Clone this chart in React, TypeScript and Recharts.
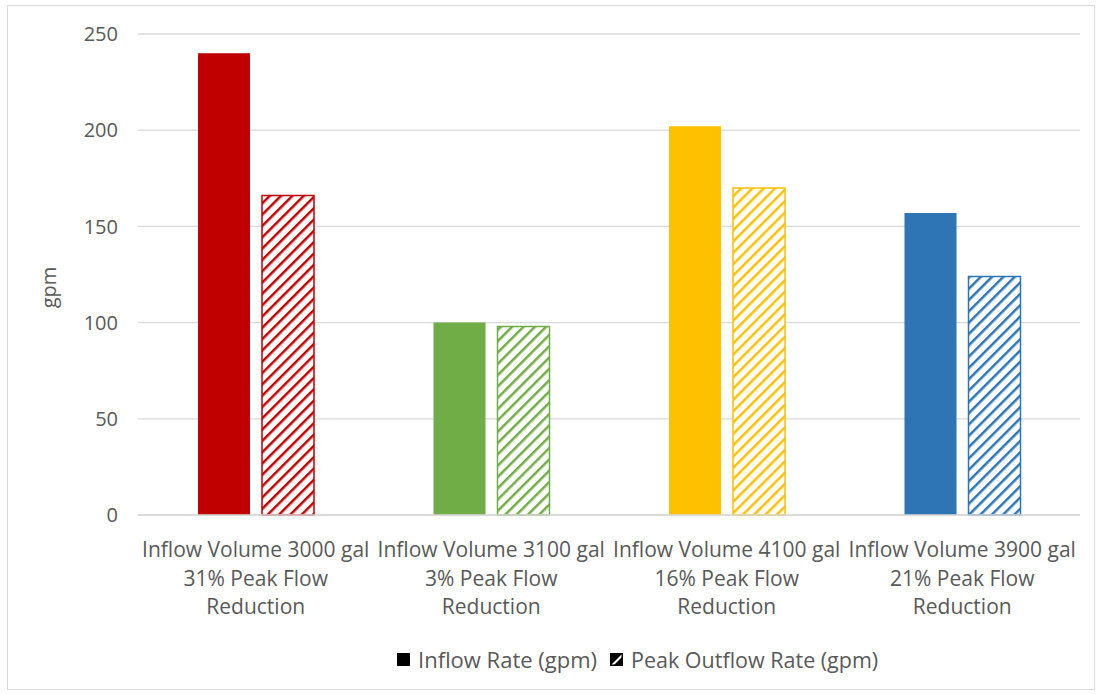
import React from "react";
import { BarChart, Bar, XAxis, YAxis, CartesianGrid, Legend, Cell } from "recharts";

const volumes = ["3000", "3100", "4100", "3900"];
const reductions = ["31%", "3%", "16%", "21%"];
const inflowRate = [240, 100, 202, 157];
const peakOutflow = [166, 98, 170, 124];
const barColors = ["#C00000", "#70AD47", "#FFC000", "#2E75B6"];
const yTicks = [0, 50, 100, 150, 200, 250];

const data = volumes.map((v, i) => ({
  name: `Inflow Volume ${v} gal`,
  reduction: `${reductions[i]} Peak Flow`,
  inflow: inflowRate[i],
  outflow: peakOutflow[i],
}));

const FONT = "'Open Sans', sans-serif";
const TEXT = "#595959";

function CategoryTick({ x, y, payload, index }: any) {
  const row = data[index] || data.find((d) => d.name === payload.value);
  return (
    <text x={x} y={y} textAnchor="middle" fill={TEXT} fontSize={21} fontFamily={FONT}>
      <tspan x={x} dy={34}>{payload.value}</tspan>
      <tspan x={x} dy={28.5}>{row ? row.reduction : ""}</tspan>
      <tspan x={x} dy={28.5}>Reduction</tspan>
    </text>
  );
}

function AxisTitle({ viewBox }: any) {
  const cx = 48;
  const cy = viewBox.y + viewBox.height / 2 + 13;
  return (
    <text
      x={cx}
      y={cy}
      transform={`rotate(-90, ${cx}, ${cy})`}
      textAnchor="middle"
      dominantBaseline="central"
      fill={TEXT}
      fontSize={20}
      fontFamily={FONT}
    >
      gpm
    </text>
  );
}

// legend laid out from the left to sit where the original one does
function LegendBox() {
  return (
    <div style={{ display: "flex", alignItems: "center", fontFamily: FONT, fontSize: 22, color: TEXT, height: 30, paddingLeft: 397 }}>
      <svg width={13} height={13} style={{ marginRight: 8 }}>
        <rect x={0} y={0} width={13} height={13} fill="#000" />
      </svg>
      <span style={{ width: 192, display: "inline-block" }}>Inflow Rate (gpm)</span>
      <svg width={13} height={13} style={{ marginRight: 8 }}>
        <rect x={0.75} y={0.75} width={11.5} height={11.5} fill="#fff" stroke="#000" strokeWidth={1.5} />
        <polygon points="0,0 13,0 0,13" fill="#000" />
        <polygon points="3,13 13,3 13,13" fill="#000" />
      </svg>
      <span style={{ fontSize: 21.5 }}>Peak Outflow Rate (gpm)</span>
    </div>
  );
}

export default function App() {
  return (
    <div style={{ position: "absolute", left: 0, top: 0, width: 1101, height: 694, background: "#fff" }}>
      <div style={{ position: "absolute", left: 7, top: 5, width: 1086, height: 683, border: "1px solid #d9d9d9" }} />
      <div style={{ position: "absolute", left: 0, top: 0 }}>
        <BarChart
          width={1101}
          height={694}
          data={data}
          margin={{ top: 34, right: 21, left: 0, bottom: 20 }}
          barSize={52}
          barGap={12}
        >
          <defs>
            {barColors.map((c, i) => (
              <pattern
                key={c}
                id={`hatch${i}`}
                patternUnits="userSpaceOnUse"
                width={8}
                height={8}
                patternTransform="rotate(45)"
              >
                <rect width={8} height={8} fill="#fff" />
                <line x1={0} y1={0} x2={0} y2={8} stroke={c} strokeWidth={5} />
              </pattern>
            ))}
          </defs>
          <CartesianGrid vertical={false} stroke="#d9d9d9" strokeWidth={1.3} />
          <XAxis
            dataKey="name"
            height={129}
            tickLine={false}
            axisLine={{ stroke: "#d9d9d9", strokeWidth: 1.3 }}
            tick={<CategoryTick />}
            interval={0}
          />
          <YAxis
            width={138}
            domain={[0, 250]}
            ticks={yTicks}
            axisLine={false}
            tickLine={false}
            tickSize={0}
            tickMargin={20}
            tick={{ fill: TEXT, fontSize: 20, fontFamily: FONT }}
            label={<AxisTitle />}
          />
          <Legend verticalAlign="bottom" align="left" height={30} content={<LegendBox />} />
          <Bar dataKey="inflow" name="Inflow Rate (gpm)" isAnimationActive={false}>
            {data.map((d, i) => (
              <Cell key={d.name} fill={barColors[i]} />
            ))}
          </Bar>
          <Bar dataKey="outflow" name="Peak Outflow Rate (gpm)" isAnimationActive={false}>
            {data.map((d, i) => (
              <Cell key={d.name} fill={`url(#hatch${i})`} stroke={barColors[i]} strokeWidth={1.5} />
            ))}
          </Bar>
        </BarChart>
      </div>
    </div>
  );
}
